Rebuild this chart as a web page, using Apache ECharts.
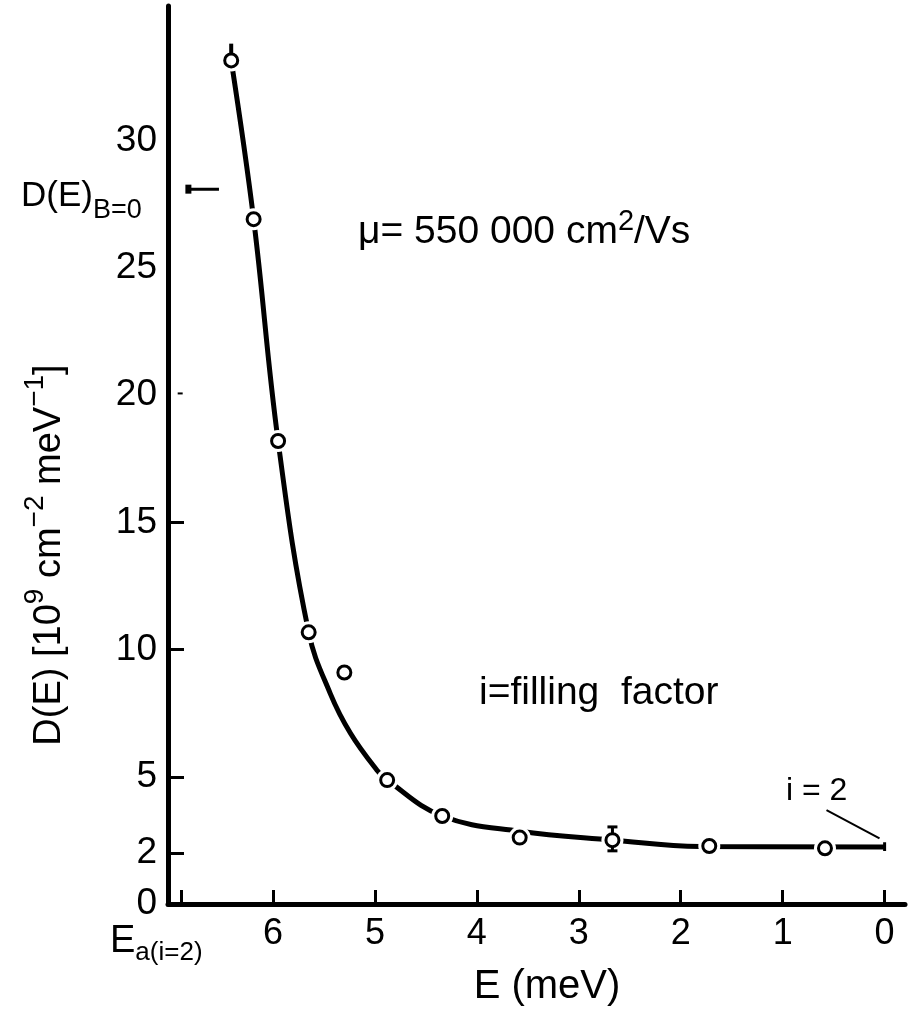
<!DOCTYPE html>
<html>
<head>
<meta charset="utf-8">
<script src="https://cdn.jsdelivr.net/npm/echarts@6/dist/echarts.min.js"></script>
<style>
  html, body { margin: 0; padding: 0; background: #fff; }
  #chart { width: 911px; height: 1009px; }
</style>
</head>
<body>
<div id="chart"></div>
<script>
// ---- data ----
const pointE = [6.41, 6.19, 5.95, 5.65, 5.30, 4.88, 4.34, 3.58, 2.67, 1.72, 0.585];
const pointD = [33.16, 26.92, 18.20, 10.68, 9.10, 4.87, 3.46, 2.61, 2.51, 2.28, 2.19];

const curveE = [6.41, 6.19, 5.95, 5.65, 5.44, 5.24, 4.98, 4.88, 4.34, 3.58, 2.67, 1.81, 0.0];
const curveD = [33.16, 26.92, 18.20, 10.68, 8.29, 6.71, 5.26, 4.87, 3.46, 2.86, 2.52, 2.26, 2.24];

const errE = [6.41, 2.67];
const errLow = [33.16, 2.09];
const errHigh = [33.82, 3.03];
const errCapped = [false, true];

const xTickValues = [0, 1, 2, 3, 4, 5, 6, 6.9];
const xLabelValues = [0, 1, 2, 3, 4, 5, 6];
const yTickValues = [2, 5, 10, 15];
const yLabelValues = [0, 2, 5, 10, 15, 20, 25, 30];

const dB0E = [6.83, 6.53];
const dB0D = [28.1, 28.1];
const leaderE = [0.57, 0.05];
const leaderD = [3.69, 2.58];
const endTickE = [0, 0];
const endTickD = [2.43, 2.08];
const dash20E = [6.935, 6.886];
const dash20D = [20.07, 20.07];

const FONT = 'Liberation Sans';
const zip = (a, b) => a.map((v, i) => [v, b[i]]);

const chart = echarts.init(document.getElementById('chart'), null, { renderer: 'canvas' });

function segSeries(e, d, width, extra) {
  return Object.assign({
    type: 'line', data: zip(e, d), symbol: 'none', silent: true, z: 6,
    lineStyle: { color: '#000', width: width, cap: 'butt' }, animation: false
  }, extra || {});
}

const option = {
  animation: false,
  backgroundColor: '#fff',
  grid: { left: 168, right: 6, top: 6, bottom: 105, containLabel: false },
  xAxis: {
    type: 'value', inverse: true, min: -0.2, max: 7.03,
    axisLine: { show: true, onZero: false, lineStyle: { color: '#000', width: 5 } },
    axisTick: { show: true, inside: true, length: 14, customValues: xTickValues,
      lineStyle: { color: '#000', width: 3 } },
    axisLabel: { show: true, customValues: xLabelValues, fontSize: 36, fontFamily: FONT,
      color: '#000', margin: 12 },
    splitLine: { show: false }
  },
  yAxis: {
    type: 'value', min: 0, max: 35.3,
    axisLine: { show: true, onZero: false, lineStyle: { color: '#000', width: 5 } },
    axisTick: { show: true, inside: true, length: 16, customValues: yTickValues,
      lineStyle: { color: '#000', width: 3 } },
    axisLabel: { show: true, customValues: yLabelValues, fontSize: 37, fontFamily: FONT,
      color: '#000', margin: 11 },
    splitLine: { show: false }
  },
  series: [
    {
      type: 'line', data: zip(curveE, curveD), smooth: 0.4, symbol: 'none', z: 2,
      lineStyle: { color: '#000', width: 5 }
    },
    {
      type: 'scatter', data: zip(pointE, pointD), symbol: 'circle', symbolSize: 22, z: 3,
      itemStyle: { color: '#fff', borderWidth: 0, opacity: 1 }, silent: true
    },
    {
      type: 'custom', z: 4, silent: true,
      data: errE.map((e, i) => [e, errLow[i], errHigh[i], errCapped[i] ? 1 : 0]),
      renderItem: function (params, api) {
        const e = api.value(0);
        const p1 = api.coord([e, api.value(1)]);
        const p2 = api.coord([e, api.value(2)]);
        const capped = api.value(3) === 1;
        const children = [{
          type: 'line', shape: { x1: p1[0], y1: p1[1], x2: p2[0], y2: p2[1] },
          style: { stroke: '#000', lineWidth: capped ? 3 : 4 }
        }];
        if (capped) {
          [p1, p2].forEach(p => children.push({
            type: 'line', shape: { x1: p[0] - 5, y1: p[1], x2: p[0] + 5, y2: p[1] },
            style: { stroke: '#000', lineWidth: 3 }
          }));
        }
        return { type: 'group', children: children };
      }
    },
    {
      type: 'scatter', data: zip(pointE, pointD), symbol: 'circle', symbolSize: 13, z: 5,
      itemStyle: { color: '#fff', borderColor: '#000', borderWidth: 3, opacity: 1 }
    },
    segSeries(dB0E, dB0D, 3, {
      data: [
        { value: [dB0E[0], dB0D[0]], symbol: 'rect', symbolSize: [6, 9], itemStyle: { color: '#000' } },
        { value: [dB0E[1], dB0D[1]], symbol: 'none' }
      ],
      symbol: 'rect', showSymbol: true, itemStyle: { color: '#000' }
    }),
    segSeries(leaderE, leaderD, 2),
    segSeries(endTickE, endTickD, 3),
    segSeries(dash20E, dash20D, 2)
  ],
  graphic: [
    {
      type: 'text', x: 45, y: 555, rotation: Math.PI / 2,
      style: {
        text: '{m|D(E) [10}{s|9}{m| cm}{s|−2}{m| meV}{s|−1}{m|]}',
        align: 'center', verticalAlign: 'middle', textAlign: 'center', textVerticalAlign: 'middle',
        fill: '#000',
        rich: {
          m: { fontSize: 38, fontFamily: FONT, lineHeight: 48, verticalAlign: 'bottom', fill: '#000' },
          s: { fontSize: 28, fontFamily: FONT, lineHeight: 28, verticalAlign: 'top', fill: '#000' }
        }
      }
    },
    {
      type: 'text', x: 21, y: 196,
      style: {
        text: '{m|D(E)}{s|B=0}',
        align: 'left', verticalAlign: 'middle', textAlign: 'left', textVerticalAlign: 'middle',
        fill: '#000',
        rich: {
          m: { fontSize: 35, fontFamily: FONT, lineHeight: 56, verticalAlign: 'middle', fill: '#000' },
          s: { fontSize: 27, fontFamily: FONT, lineHeight: 27, verticalAlign: 'bottom', fill: '#000' }
        }
      }
    },
    {
      type: 'text', x: 358, y: 232,
      style: {
        text: '{m|μ= 550 000 cm}{s|2}{m|/Vs}',
        align: 'left', verticalAlign: 'middle', textAlign: 'left', textVerticalAlign: 'middle',
        fill: '#000',
        rich: {
          m: { fontSize: 39, fontFamily: FONT, lineHeight: 50, verticalAlign: 'middle', fill: '#000' },
          s: { fontSize: 29, fontFamily: FONT, lineHeight: 29, verticalAlign: 'top', fill: '#000' }
        }
      }
    },
    {
      type: 'text', x: 479, y: 693,
      style: {
        text: 'i=filling  factor', fontSize: 39, fontFamily: FONT, fill: '#000',
        align: 'left', verticalAlign: 'middle', textAlign: 'left', textVerticalAlign: 'middle'
      }
    },
    {
      type: 'text', x: 786, y: 791,
      style: {
        text: 'i = 2', fontSize: 32, fontFamily: FONT, fill: '#000',
        align: 'left', verticalAlign: 'middle', textAlign: 'left', textVerticalAlign: 'middle'
      }
    },
    {
      type: 'text', x: 110, y: 942,
      style: {
        text: '{m|E}{s|a(i=2)}',
        align: 'left', verticalAlign: 'middle', textAlign: 'left', textVerticalAlign: 'middle',
        fill: '#000',
        rich: {
          m: { fontSize: 38, fontFamily: FONT, lineHeight: 48, verticalAlign: 'middle', fill: '#000' },
          s: { fontSize: 26, fontFamily: FONT, lineHeight: 26, verticalAlign: 'bottom', fill: '#000' }
        }
      }
    },
    {
      type: 'text', x: 547, y: 987,
      style: {
        text: 'E (meV)', fontSize: 40, fontFamily: FONT, fill: '#000',
        align: 'center', verticalAlign: 'middle', textAlign: 'center', textVerticalAlign: 'middle'
      }
    }
  ]
};
chart.setOption(option);
</script>
</body>
</html>
